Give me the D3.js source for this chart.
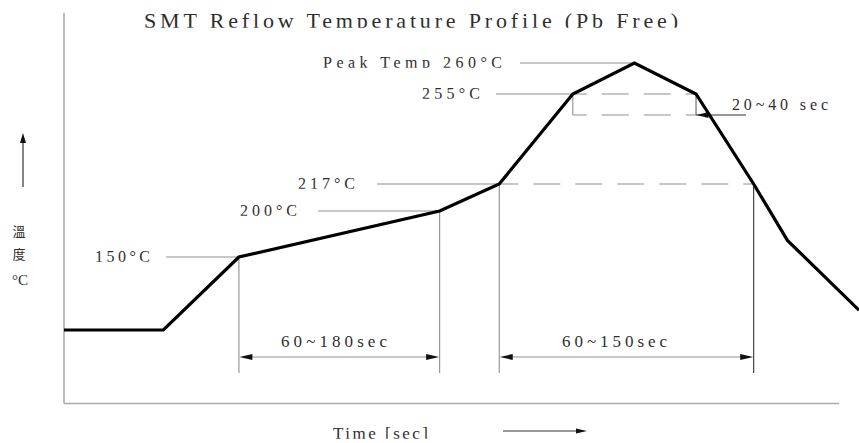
<!DOCTYPE html>
<html><head><meta charset="utf-8">
<script src="https://cdn.jsdelivr.net/npm/d3@7"></script>
<style>html,body{margin:0;padding:0;background:#fff;}svg{display:block;}</style>
</head><body>
<script>
// ---- data ----
const title = "SMT Reflow Temperature Profile (Pb  Free)";
const times = [0, 50, 88, 189, 219, 256, 287, 318, 347, 364, 400];      // schematic seconds
const temps = [25, 25, 150, 200, 217, 255, 260, 255, 217, 168, 59];     // °C
const refTemps  = [150, 200, 217, 255, 260];
const refLabels = ["150°C", "200°C", "217°C", "255°C", "Peak Temp 260°C"];
const refTimes  = [88, 189, 219, 256, 287];
const spanLabels = ["60~180sec", "60~150sec"];
const spanStart  = [88, 219];
const spanEnd    = [189, 347];
const windowLabel = "20~40 sec";
const windowTimes = [256, 318];
const xLabel = "Time [sec]";
const yLabel = ["溫", "度", "°C"];

const W = 859, H = 443;
const svg = d3.select("body").append("svg").attr("width", W).attr("height", H);
const defs = svg.append("defs");
const x = d3.scaleLinear().domain([0, 400]).range([64, 859]);
const y = d3.scaleLinear().domain([0, 25, 150, 200, 217, 255, 260, 280])
  .range([404, 330, 257, 211, 184, 94, 63, 13]);

const gray = "#8f8f8f", dark = "#333", txtCol = "#2e2e2e";
let cid = 0;
function label(txt, x0, base, len, size) {
  const t = svg.append("text").attr("x", x0).attr("y", base)
    .attr("font-family", "'Liberation Serif', 'DejaVu Serif', serif")
    .attr("font-size", size).attr("fill", txtCol).text(txt);
  if (len) t.attr("textLength", len).attr("lengthAdjust", "spacing");
  const bb = t.node().getBBox();
  const id = "clip" + (cid++);
  defs.append("clipPath").attr("id", id).append("rect")
    .attr("x", bb.x - 3).attr("y", bb.y - 3).attr("width", bb.width + 6)
    .attr("height", base + 0.3 - (bb.y - 3));
  t.attr("clip-path", `url(#${id})`);
  return t;
}
function line(x1, y1, x2, y2, color, w, dash, off) {
  const l = svg.append("line").attr("x1", x1).attr("y1", y1).attr("x2", x2).attr("y2", y2)
    .attr("stroke", color).attr("stroke-width", w);
  if (dash) l.attr("stroke-dasharray", dash).attr("stroke-dashoffset", off || 0);
  return l;
}
function arrowHead(tx, ty, dir, len = 12, hw = 3) {
  let p;
  if (dir === "l") p = [[tx, ty], [tx + len, ty - hw], [tx + len, ty + hw]];
  else if (dir === "r") p = [[tx, ty], [tx - len, ty - hw], [tx - len, ty + hw]];
  else p = [[tx, ty], [tx - hw, ty + len], [tx + hw, ty + len]];
  svg.append("path").attr("d", "M" + p.join("L") + "Z").attr("fill", "#111");
}

// axes
const xAxisY = y(0) - 0.5;
line(x(0), y(280), x(0), xAxisY, "#999", 1.3);
line(x(0), xAxisY, x(390), xAxisY, "#aaa", 1.3);

// title
label(title, 144, 27.5, 534, 22);

// reference levels
const lineStart = [166, 318, 377, 496, 520];
const labStart  = [95, 240, 298, 422, 323];
const labLen    = [55, 57, 57, 58, 179];
refTemps.forEach((t, i) => {
  const yy = y(t);
  line(lineStart[i], yy, x(refTimes[i]), yy, gray, 1.1);
  label(refLabels[i], labStart[i], yy + 4.5, labLen[i], 16);
});
line(x(219), y(217), x(347), y(217), gray, 1.1, "27,15", 8);
line(x(256), y(255), x(318), y(255), gray, 1.1, "27,15", 13);
// 20~40 sec window box
const winY = y(255) + 21;
line(x(windowTimes[0]), y(255), x(windowTimes[0]), winY, gray, 1.1);
line(x(windowTimes[1]), y(255), x(windowTimes[1]), winY, "#666", 1.1);
line(x(windowTimes[0]), winY, x(windowTimes[1]), winY, gray, 1.1, "27,15", 13);
line(x(windowTimes[1]), winY, x(windowTimes[1]) + 50, winY, dark, 1.1);
arrowHead(x(windowTimes[1]) + 0.5, winY, "l", 12, 3);
label(windowLabel, 732, 110, 96, 16);

// span dimension lines
const dimBottom = 373, arrowY = 357;
[88, 189, 219].forEach(t => {
  const tt = temps[times.indexOf(t)];
  line(x(t), y(tt), x(t), dimBottom, gray, 1.1);
});
line(x(347), y(217), x(347), dimBottom, dark, 1.1);
spanLabels.forEach((s, i) => {
  const a = x(spanStart[i]), b = x(spanEnd[i]);
  line(a + 6, arrowY, b - 6, arrowY, gray, 1.1);
  arrowHead(a + 0.5, arrowY, "l", 13, 3);
  arrowHead(b - 0.5, arrowY, "r", 13, 3);
});
label(spanLabels[0], 281, 347, 106, 17);
label(spanLabels[1], 562, 347, 105, 17);

// profile
svg.append("path")
  .datum(times.map((t, i) => [t, temps[i]]))
  .attr("d", d3.line().x(d => x(d[0])).y(d => y(d[1])))
  .attr("fill", "none").attr("stroke", "#000").attr("stroke-width", 3.2)
  .attr("stroke-linejoin", "miter");

// x label + arrow
label(xLabel, 333, 438.5, 95, 17);
line(503, 431, 578, 431, dark, 1.2);
arrowHead(587, 431, "r", 11, 2.5);

// y label + arrow
line(23, 187, 23, 142, dark, 1.2);
arrowHead(23, 133, "u", 10, 3);
const yl = svg.append("g").attr("fill", txtCol).attr("text-anchor", "middle");
yl.append("text").attr("x", 19).attr("y", 236).attr("font-size", 13).attr("font-family", "'Noto Sans CJK TC', sans-serif").text(yLabel[0]);
yl.append("text").attr("x", 19).attr("y", 259).attr("font-size", 13).attr("font-family", "'Noto Sans CJK TC', sans-serif").text(yLabel[1]);
yl.append("text").attr("x", 20).attr("y", 285).attr("font-size", 15).attr("font-family", "'Liberation Serif', serif").text(yLabel[2]);
</script>
</body></html>
